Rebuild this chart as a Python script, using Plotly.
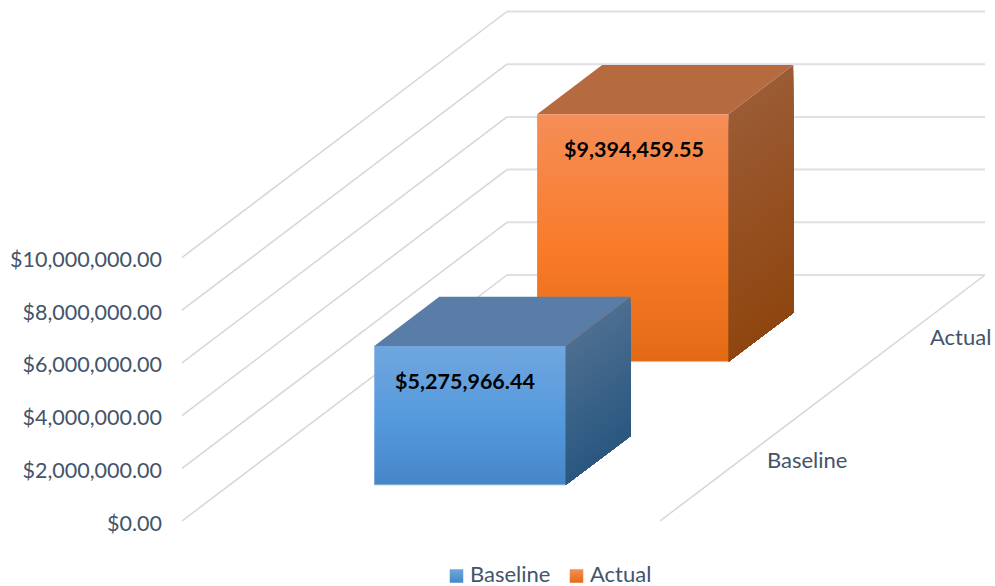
import plotly.graph_objects as go

# Chart values
categories = ["Baseline", "Actual"]
values = [5275966.44, 9394459.55]
value_labels = ["$5,275,966.44", "$9,394,459.55"]
tick_values = [0, 2000000, 4000000, 6000000, 8000000, 10000000]
tick_labels = ["$0.00", "$2,000,000.00", "$4,000,000.00", "$6,000,000.00",
               "$8,000,000.00", "$10,000,000.00"]

# Oblique projection of the 3D box: x runs across the floor, depth runs back
# and up the screen, value runs straight up.
LEFT_PAD = 163
ORIGIN_X = 182.0
FLOOR_W = 478.0
DEPTH_DX = 325.0
PX_PER_MILLION = 26.35
PX_PER_DOLLAR = PX_PER_MILLION / 1e6
DEPTH_DY = 246.0 / PX_PER_DOLLAR
BASE_PX = 521.0
BAR_W = 0.40
BAR_D = 0.20
BAR_X = 0.503
CENTERS = [0.246, 0.747]
CATEGORY_DEPTHS = [0.25, 0.75]
LABEL_NUDGE = [-5, 1.5]
LABEL_DROP = [-35, -35]
CATEGORY_SHIFT = [24, 24]
INK = "#44546A"
FONT = "Lato"
TEXT_SIZE = 21.5
KEY_X = [456.5, 576.5]
KEY_TEXT_GAP = 11.5
KEY_TEXT_RAISE = 3
KEY_ROW_PX = 576


def project(xf, d, v):
    return ORIGIN_X + xf * FLOOR_W + d * DEPTH_DX, v + d * DEPTH_DY


def poly(points):
    pts = [project(*p) for p in points] + [project(*points[0])]
    return [p[0] for p in pts], [p[1] for p in pts]


def mix(c1, c2, t):
    a = [int(c1[i:i + 2], 16) for i in (1, 3, 5)]
    b = [int(c2[i:i + 2], 16) for i in (1, 3, 5)]
    return "rgb(%d,%d,%d)" % tuple(round(a[i] + (b[i] - a[i]) * t) for i in range(3))


styles = [
    dict(front=["#4586C8", "#5499DC", "#70A6DF"], top="#597DA7",
         side=("#2A5780", "#4C6E90")),
    dict(front=["#E36A15", "#F97B28", "#F58E58"], top="#B66A3F",
         side=("#8F450F", "#9B5B34")),
]

fig = go.Figure()

# Side wall, floor edge and back wall gridlines
wall_x, wall_y, back_x, back_y = [], [], [], []
for t in tick_values:
    x, y = zip(project(0, 0, t), project(0, 1, t))
    wall_x += list(x) + [None]
    wall_y += list(y) + [None]
    x, y = zip(project(0, 1, t), project(1, 1, t))
    back_x += list(x) + [None]
    back_y += list(y) + [None]
x, y = zip(project(1, 1, 0), project(1, 0, 0))
wall_x += list(x)
wall_y += list(y)
fig.add_trace(go.Scatter(x=wall_x, y=wall_y, mode="lines", showlegend=False,
                         hoverinfo="skip", line=dict(color="#D6D6D8", width=1.5)))
fig.add_trace(go.Scatter(x=back_x, y=back_y, mode="lines", showlegend=False,
                         hoverinfo="skip", line=dict(color="#DFDFE5", width=2)))


def add_box(i):
    v, st, dc = values[i], styles[i], CENTERS[i]
    x0, x1 = BAR_X - BAR_W / 2, BAR_X + BAR_W / 2
    d0, d1 = dc - BAR_D / 2, dc + BAR_D / 2

    # Right face: shaded along the value direction, painted tallest first
    steps = 48
    for k in range(steps, 0, -1):
        vk = v * k / steps
        px, py = poly([(x1, d0, 0), (x1, d1, 0), (x1, d1, vk), (x1, d0, vk)])
        fig.add_trace(go.Scatter(x=px, y=py, mode="lines", line=dict(width=0), fill="toself",
                                 fillcolor=mix(st["side"][0], st["side"][1], k / steps),
                                 showlegend=False, hoverinfo="skip"))
    # Top face
    px, py = poly([(x0, d0, v), (x1, d0, v), (x1, d1, v), (x0, d1, v)])
    fig.add_trace(go.Scatter(x=px, y=py, mode="lines", line=dict(width=0), fill="toself",
                             fillcolor=st["top"], showlegend=False, hoverinfo="skip"))
    # Front face
    px, py = poly([(x0, d0, 0), (x1, d0, 0), (x1, d0, v), (x0, d0, v)])
    fig.add_trace(go.Scatter(
        x=px, y=py, mode="lines", line=dict(width=0), fill="toself", showlegend=False,
        hoverinfo="skip",
        fillgradient=dict(type="vertical",
                          colorscale=[[0, st["front"][0]], [0.45, st["front"][1]], [1, st["front"][2]]])))
    # Pale edge along the foot of the front face
    x, y = zip(project(x0, d0, 0), project(x1, d0, 0))
    fig.add_trace(go.Scatter(x=x, y=y, mode="lines", showlegend=False, hoverinfo="skip",
                             line=dict(color="#D5D8DC", width=1)))


# Far box first so the near box overlaps it
add_box(1)
add_box(0)

annotations = []

# Key below the plot: one gradient swatch and name per series
key_y = (BASE_PX - KEY_ROW_PX) / PX_PER_DOLLAR
for name, st, kx in zip(categories, styles, KEY_X):
    fig.add_trace(go.Scatter(
        x=[kx], y=[key_y], mode="markers", name=name, hoverinfo="skip", showlegend=False,
        marker=dict(symbol="square", size=13.5, color=st["front"][2],
                    gradient=dict(type="vertical", color=st["front"][0]))))
    annotations.append(dict(x=kx + KEY_TEXT_GAP, y=key_y, text=name, showarrow=False, xanchor="left",
                            yshift=KEY_TEXT_RAISE, font=dict(family=FONT, size=22, color=INK)))

for i, cat in enumerate(categories):
    # Value labels on the front faces
    ax, ay = project(BAR_X, CENTERS[i] - BAR_D / 2, values[i])
    annotations.append(dict(x=ax, y=ay, text="<b>%s</b>" % value_labels[i], showarrow=False,
                            xshift=LABEL_NUDGE[i], yshift=LABEL_DROP[i],
                            font=dict(family=FONT, size=TEXT_SIZE, color="#000000")))
    # Category labels beside the floor edge
    ax, ay = project(1, CATEGORY_DEPTHS[i], 0)
    annotations.append(dict(x=ax, y=ay, text=cat, showarrow=False, xanchor="left",
                            xshift=CATEGORY_SHIFT[i], font=dict(family=FONT, size=22, color=INK)))

# The value axis labels sit on an overlay axis, two pixels under the wall lines
y_low = -(586 - BASE_PX) / PX_PER_MILLION * 1e6
y_high = BASE_PX / PX_PER_MILLION * 1e6
label_drop = 2 / PX_PER_DOLLAR
fig.add_trace(go.Scatter(x=[None], y=[None], yaxis="y2", showlegend=False, hoverinfo="skip"))

fig.update_layout(
    width=995, height=586,
    margin=dict(l=LEFT_PAD, r=0, t=0, b=0, autoexpand=False),
    paper_bgcolor="#FFFFFF", plot_bgcolor="#FFFFFF",
    xaxis=dict(range=[LEFT_PAD, 995], visible=False, fixedrange=True),
    yaxis=dict(range=[y_low, y_high], visible=False, fixedrange=True),
    yaxis2=dict(range=[y_low + label_drop, y_high + label_drop], overlaying="y", side="left",
                tickvals=tick_values, ticktext=tick_labels, showgrid=False, zeroline=False,
                showline=False, ticks="", fixedrange=True, automargin=False,
                tickfont=dict(family=FONT, size=TEXT_SIZE, color=INK)),
    showlegend=False,
    annotations=annotations,
    font=dict(family=FONT),
)

fig.write_html("out.html", config=dict(displayModeBar=False))
